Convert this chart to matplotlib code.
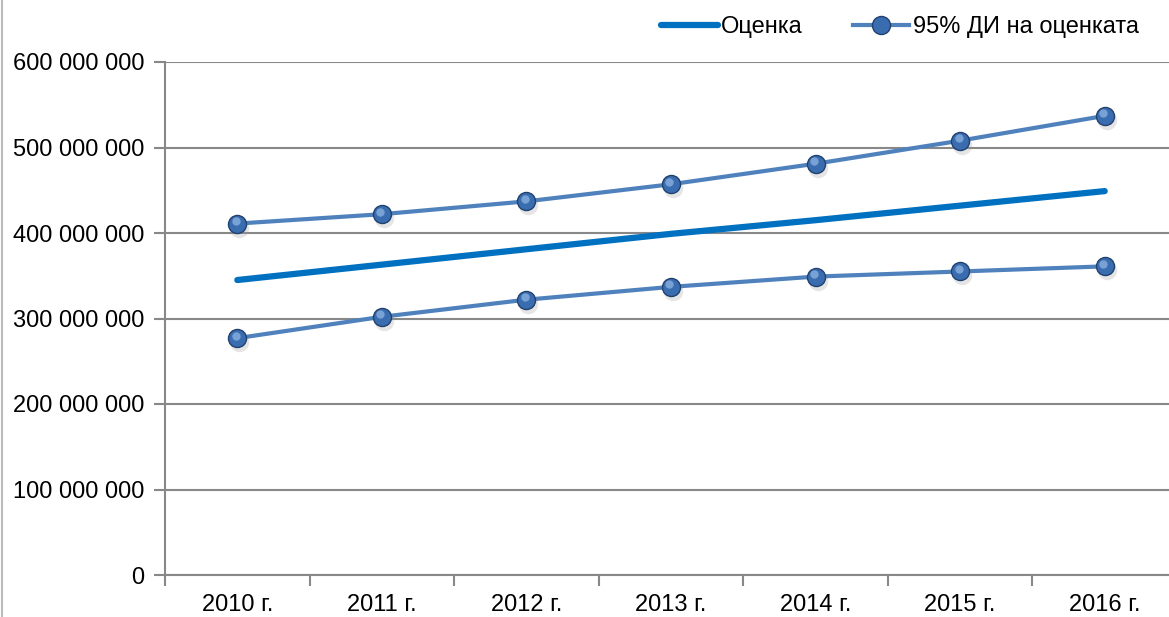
import matplotlib.pyplot as plt
import matplotlib.transforms as mtransforms
from matplotlib.lines import Line2D
from matplotlib.ticker import FuncFormatter, FixedLocator

plt.rcParams['font.family'] = ['Liberation Sans', 'DejaVu Sans']

years = ["2010 г.", "2011 г.", "2012 г.", "2013 г.", "2014 г.", "2015 г.", "2016 г."]
estimate = [345e6, 363e6, 381e6, 399e6, 415e6, 432e6, 449e6]
ci_upper = [411e6, 422e6, 437e6, 457e6, 481e6, 508e6, 537e6]
ci_lower = [277e6, 302e6, 322e6, 337e6, 349e6, 355e6, 361e6]

line_blue = "#0070C0"
ci_blue = "#4F81BD"
axis_grey = "#888888"
fs = 17.0

fig = plt.figure(figsize=(11.69, 6.17), dpi=100)
ax = fig.add_axes([165 / 1169, 42 / 617, 1012 / 1169, 513 / 617])

x = list(range(len(years)))

ax.plot(x, estimate, color=line_blue, lw=4.5, solid_capstyle="round", zorder=3)

for ys in (ci_upper, ci_lower):
    ax.plot(x, ys, color=ci_blue, lw=3, solid_capstyle="round", zorder=3)
    # soft shadow, ball, highlight
    shadow = mtransforms.offset_copy(ax.transData, fig=fig, x=2, y=-4, units="dots")
    ax.plot(x, ys, "o", ms=14, color="#999999", alpha=0.25, mec="none",
            transform=shadow, zorder=3)
    ax.plot(x, ys, "o", ms=13, mfc="#3A6DB0", mec="#21416E", mew=1.0, zorder=4)
    shine = mtransforms.offset_copy(ax.transData, fig=fig, x=-1.5, y=2.5, units="dots")
    ax.plot(x, ys, "o", ms=6, mfc="#7FA7DA", mec="none", alpha=0.9,
            transform=shine, zorder=5)

ax.set_xlim(-0.5, len(years) - 0.5)
ax.set_ylim(0, 600e6)
ax.set_yticks([i * 100e6 for i in range(7)])
ax.yaxis.set_major_formatter(FuncFormatter(lambda v, p: f"{int(v):,}".replace(",", " ")))
ax.set_xticks(x)
ax.set_xticklabels(years)
ax.xaxis.set_minor_locator(FixedLocator([i - 0.5 for i in range(len(years) + 1)]))

ax.grid(axis="y", color=axis_grey, lw=1.5)
ax.set_axisbelow(True)
for side in ("top", "right"):
    ax.spines[side].set_visible(False)
for side in ("left", "bottom"):
    ax.spines[side].set_color(axis_grey)
    ax.spines[side].set_linewidth(1.5)

ax.tick_params(axis="y", length=8, width=1.5, color=axis_grey, pad=7, labelsize=fs)
ax.tick_params(axis="x", which="major", length=0, pad=14, labelsize=fs)
ax.tick_params(axis="x", which="minor", length=8, width=1.5, color=axis_grey)

# chart frame edge on the left
fig.add_artist(Line2D([1.5 / 1169, 1.5 / 1169], [0, 1], color="#BBBBBB", lw=1.5))

handles = [
    Line2D([], [], color=line_blue, lw=4.5, solid_capstyle="round"),
    Line2D([], [], color=ci_blue, lw=3, marker="o", ms=13, mfc="#3A6DB0", mec="#21416E"),
]
fig.legend(handles, ["Оценка", "95% ДИ на оценката"], loc="upper right",
           bbox_to_anchor=(1160 / 1169, 1.0 + 5 / 617), ncol=2, frameon=False,
           fontsize=fs, handlelength=2.4, handletextpad=0.15, columnspacing=2.1)

fig.savefig("out.png", dpi=100)
